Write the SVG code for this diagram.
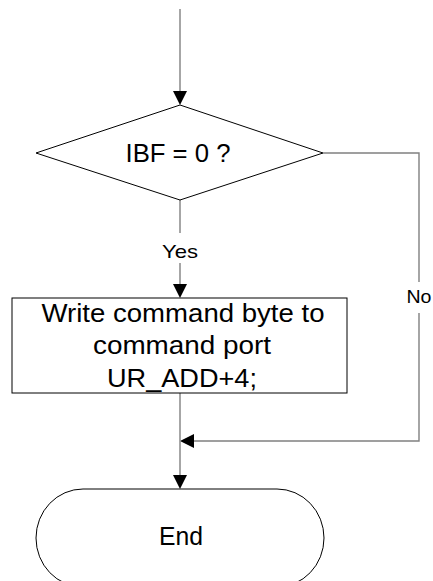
<svg xmlns="http://www.w3.org/2000/svg" width="433" height="581" viewBox="0 0 433 581">
  <style>
    .shape { fill: #ffffff; stroke: #000000; stroke-width: 1; }
    .conn { fill: none; stroke: #808080; stroke-width: 1.4; }
    .head { fill: #000000; stroke: none; }
    .label { font-family: "Liberation Sans", Arial, sans-serif; fill: #000000; text-anchor: middle; }
    .big { font-size: 25px; }
    .small { font-size: 18.5px; }
  </style>
  <defs>
    <path id="arrowDown" class="head" d="M-7,-14 L7,-14 L0,0 Z"/>
    <path id="arrowLeft" class="head" d="M14,-7 L14,7 L0,0 Z"/>
  </defs>

  <rect width="433" height="581" fill="#ffffff"/>

  <!-- connectors -->
  <g id="connectors">
    <line class="conn" x1="180" y1="9" x2="180" y2="92"/>
    <use href="#arrowDown" x="180" y="105"/>

    <line class="conn" x1="180" y1="200" x2="180" y2="233"/>
    <line class="conn" x1="180" y1="263" x2="180" y2="285"/>
    <use href="#arrowDown" x="180" y="298"/>

    <polyline class="conn" points="323,153 419,153 419,282"/>
    <polyline class="conn" points="419,313 419,441 193,441"/>
    <use href="#arrowLeft" x="180" y="441"/>

    <line class="conn" x1="180" y1="393" x2="180" y2="476"/>
    <use href="#arrowDown" x="180" y="489"/>

    <text class="label small" x="180" y="257.5" textLength="36" lengthAdjust="spacingAndGlyphs">Yes</text>
    <text class="label small" x="419" y="303" textLength="25" lengthAdjust="spacingAndGlyphs">No</text>
  </g>

  <!-- decision -->
  <g id="decision">
    <polygon class="shape" points="180,105 323,153 180,200 36,153"/>
    <text class="label big" x="178" y="162" textLength="105" lengthAdjust="spacingAndGlyphs">IBF = 0 ?</text>
  </g>

  <!-- process -->
  <g id="process">
    <rect class="shape" x="12" y="298" width="335" height="95"/>
    <text class="label big" x="183" y="322" textLength="283" lengthAdjust="spacingAndGlyphs">Write command byte to</text>
    <text class="label big" x="182" y="354" textLength="178" lengthAdjust="spacingAndGlyphs">command port</text>
    <text class="label big" x="182" y="387" textLength="150" lengthAdjust="spacingAndGlyphs">UR_ADD+4;</text>
  </g>

  <!-- terminator -->
  <g id="end">
    <path class="shape" d="M83,489 H277 A47,49 0 0 1 277,587 H83 A47,49 0 0 1 83,489 Z"/>
    <text class="label big" x="181" y="545" textLength="44" lengthAdjust="spacingAndGlyphs">End</text>
  </g>
</svg>
